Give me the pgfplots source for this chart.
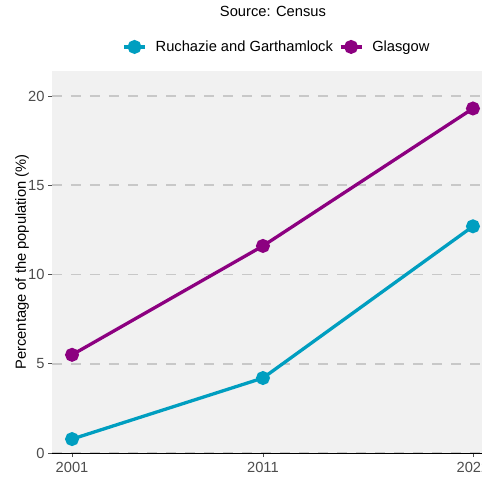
\documentclass[border=0pt]{standalone}
\usepackage{fontspec}
\setmainfont{Liberation Sans}
\usepackage{pgfplots}
\pgfplotsset{compat=1.18}
\definecolor{ruchcol}{RGB}{0,158,192}
\definecolor{glascol}{RGB}{140,0,128}
\definecolor{panelbg}{RGB}{241,241,241}
\definecolor{gridc}{RGB}{200,200,200}
\definecolor{tickt}{RGB}{77,77,77}
\newcommand{\chartfont}{\fontsize{14.7}{17}\selectfont}
\begin{document}
\begin{tikzpicture}[x=1pt,y=1pt]
\useasboundingbox (0,0) rectangle (482,483);
\clip (0,0) rectangle (482,483);
\begin{axis}[
    at={(52pt,30pt)}, anchor=south west,
    scale only axis, width=441pt, height=382pt,
    xmin=1999.95, xmax=2023.05, ymin=0, ymax=21.4,
    xtick={2001,2011,2022}, xticklabels={2001,2011,2022},
    ytick={0,5,10,15,20},
    /pgf/number format/assume math mode=true,
    axis background/.style={fill=panelbg},
    axis x line*=bottom, axis y line*=left,
    x axis line style={black, line width=0.8pt},
    y axis line style={draw=none},
    tick align=outside, major tick length=4pt,
    tick style={tickt, line width=0.8pt},
    xtick pos=bottom, ytick pos=left,
    ymajorgrids,
    major grid style={gridc, line width=1.8pt, dash pattern=on 10pt off 9pt},
    xticklabel style={font=\chartfont, text=tickt, yshift=-2pt},
    yticklabel style={font=\chartfont, text=tickt},
    ylabel={Percentage of the population (\%)},
    ylabel style={at={(axis description cs:-0.068,0.5)}, anchor=center, font=\chartfont},
    title={Source: Census},
    title style={at={(0.501,1.141)}, anchor=center, font=\chartfont},
    legend style={at={(0.51,1.063)}, anchor=center, draw=none, fill=none,
        font=\chartfont, legend columns=2,
        /tikz/every even column/.append style={column sep=4pt}},
    legend image code/.code={
        \draw[#1, line width=3.3pt] (0pt,0pt) -- (21pt,0pt);
        \fill[#1] (10.5pt,0pt) circle (5.3pt);
        \path (28pt,0pt);},
]
\addplot[color=ruchcol, line width=3.3pt, mark=*, mark size=5.3pt,
    mark options={solid, draw=none, fill=ruchcol}]
    coordinates {(2001,0.78) (2011,4.2) (2022,12.7)};
\addlegendentry{Ruchazie and Garthamlock}
\addplot[color=glascol, line width=3.3pt, mark=*, mark size=5.3pt,
    mark options={solid, draw=none, fill=glascol}]
    coordinates {(2001,5.5) (2011,11.6) (2022,19.3)};
\addlegendentry{Glasgow}
\end{axis}
\end{tikzpicture}
\end{document}
